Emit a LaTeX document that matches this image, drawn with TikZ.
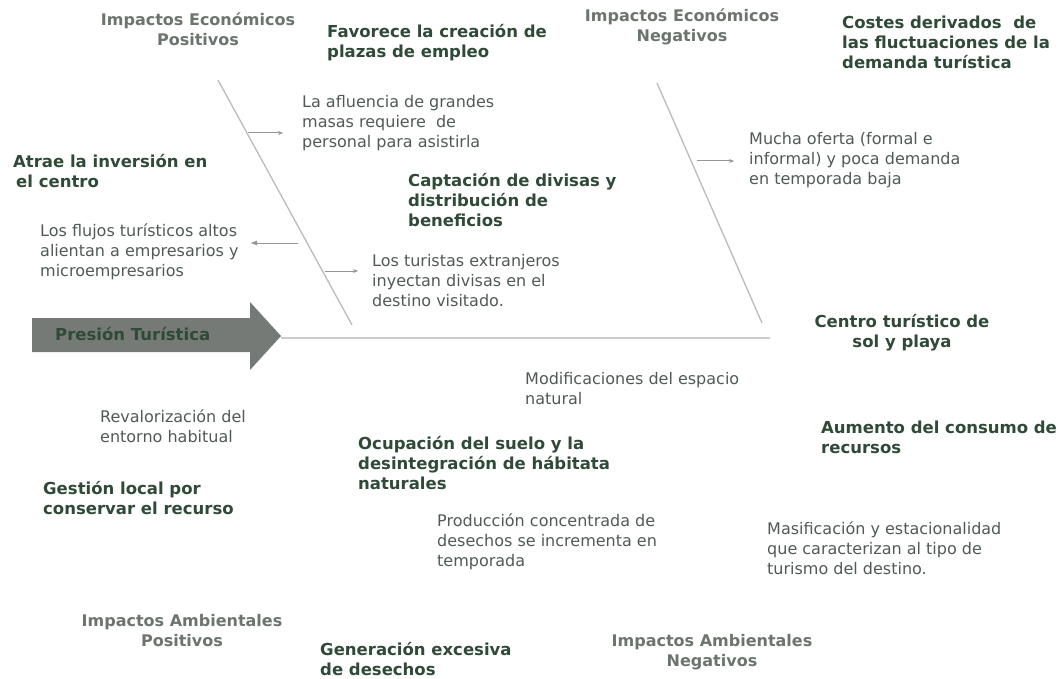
\documentclass[tikz,border=0pt]{standalone}
\usepackage{fontspec}
\setmainfont{DejaVu Sans}
\usetikzlibrary{arrows.meta}
\definecolor{hdgrey}{RGB}{108,116,110}
\definecolor{dkgreen}{RGB}{47,74,54}
\definecolor{txtgrey}{RGB}{80,90,84}
\definecolor{bonegrey}{RGB}{185,187,185}
\definecolor{arrowfill}{RGB}{118,122,118}
\begin{document}
\begin{tikzpicture}[x=1pt,y=-1pt,
    every node/.style={inner sep=0pt,font=\fontsize{16}{20}\selectfont},
    heading/.style={anchor=north,align=center,text=hdgrey,font=\fontsize{16}{20}\selectfont\bfseries},
    cause/.style={anchor=north west,align=left,text=dkgreen,font=\fontsize{16.5}{20}\selectfont\bfseries},
    note/.style={anchor=north west,align=left,text=txtgrey},
    bone/.style={draw=bonegrey,line width=1.3pt},
    tick/.style={draw=bonegrey!80!black,line width=1pt,-{Stealth[length=5pt,width=4pt]}}]
  \useasboundingbox (0,0) rectangle (1059,679);
  \fill[arrowfill] (32,318) -- (250,318) -- (250,302) -- (281,336)
    -- (250,370) -- (250,352) -- (32,352) -- cycle;
  \draw
    (55,327) node[cause,anchor=north west] (presion){Presión Turística}
    (198,13) node[heading] (iep){Impactos Económicos\\Positivos}
    (682,9) node[heading] (ien){Impactos Económicos\\Negativos}
    (182,614) node[heading] (iap){Impactos Ambientales\\Positivos}
    (712,634) node[heading] (ian){Impactos Ambientales\\Negativos}
    (327,24) node[cause] (favorece){Favorece la creación de\\plazas de empleo}
    (13,154) node[cause] (atrae){Atrae la inversión en\\\hspace{3pt}el centro}
    (408,173) node[cause] (captacion){Captación de divisas y\\distribución de\\beneficios}
    (842,16) node[cause] (costes){Costes derivados~ de\\las fluctuaciones de la\\demanda turística}
    (902,314) node[cause,anchor=north,align=center] (centro){Centro turístico de\\sol y playa}
    (358,436) node[cause] (ocupacion){Ocupación del suelo y la\\desintegración de hábitata\\naturales}
    (821,421) node[cause] (aumento){Aumento del consumo de\\recursos}
    (43,481) node[cause] (gestion){Gestión local por\\conservar el recurso}
    (320,642) node[cause] (generacion){Generación excesiva\\de desechos}
    (302,95) node[note] (afluencia){La afluencia de grandes\\masas requiere~ de\\personal para asistirla}
    (40,224) node[note] (flujos){Los flujos turísticos altos\\alientan a empresarios y\\microempresarios}
    (372,254) node[note] (turistas){Los turistas extranjeros\\inyectan divisas en el\\destino visitado.}
    (749,132) node[note] (mucha){Mucha oferta (formal e\\informal) y poca demanda\\en temporada baja}
    (525,372) node[note] (modif){Modificaciones del espacio\\natural}
    (100,409) node[note] (reval){Revalorización del\\entorno habitual}
    (437,513) node[note] (produccion){Producción concentrada de\\desechos se incrementa en\\temporada}
    (767,521) node[note] (masif){Masificación y estacionalidad\\que caracterizan al tipo de\\turismo del destino.};
  \coordinate (tip) at (281,338);
  \coordinate (spineend) at (770,338);
  \coordinate (lt) at (218,80);
  \coordinate (lb) at (352,325);
  \coordinate (rt) at (657,83);
  \coordinate (rb) at (762,323);
  \coordinate (a1) at (248,133);
  \coordinate (a2) at (298,243);
  \coordinate (a3) at (325,271);
  \coordinate (a4) at (697,161);
  \begin{scope}
    \draw[bone,line width=2pt,draw=bonegrey!75] (tip) to (spineend);
    \draw[bone] (lt) to (lb);
    \draw[bone] (rt) to (rb);
    \draw[tick] (a1) to ([xshift=-19pt]afluencia.west |- a1);
    \draw[tick,-{Latex[length=7pt,width=5pt]}] (a2) to (250,243);
    \draw[tick] (a3) to ([xshift=-14pt]turistas.west |- a3);
    \draw[tick] (a4) to ([xshift=-15pt]mucha.west |- a4);
  \end{scope}
\end{tikzpicture}
\end{document}
